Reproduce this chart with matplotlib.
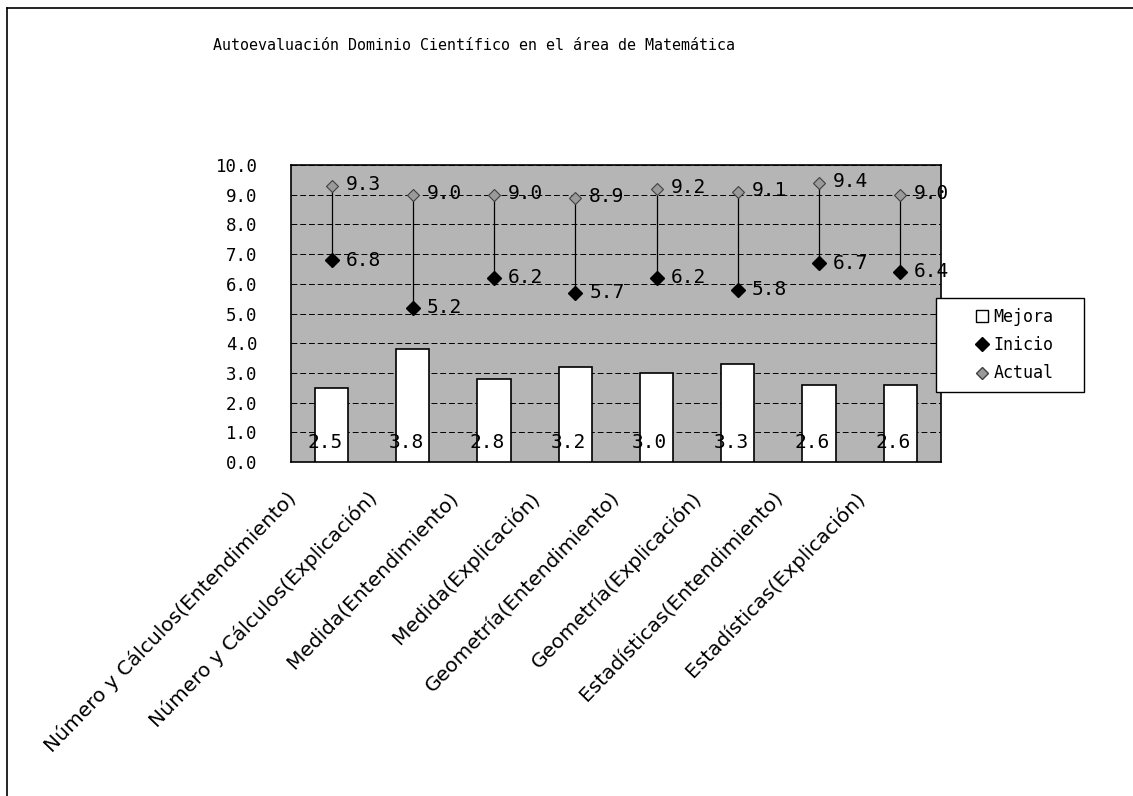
import matplotlib
matplotlib.use("Agg")
import matplotlib.pyplot as plt
import matplotlib.transforms as mtransforms
from matplotlib.lines import Line2D
from matplotlib.patches import Rectangle
import numpy as np

categories = [
    "Número y Cálculos(Entendimiento)",
    "Número y Cálculos(Explicación)",
    "Medida(Entendimiento)",
    "Medida(Explicación)",
    "Geometría(Entendimiento)",
    "Geometría(Explicación)",
    "Estadísticas(Entendimiento)",
    "Estadísticas(Explicación)",
]
mejora = [2.5, 3.8, 2.8, 3.2, 3.0, 3.3, 2.6, 2.6]
inicio = [6.8, 5.2, 6.2, 5.7, 6.2, 5.8, 6.7, 6.4]
actual = [9.3, 9.0, 9.0, 8.9, 9.2, 9.1, 9.4, 9.0]
yticks = [0, 1, 2, 3, 4, 5, 6, 7, 8, 9, 10]
title = "Autoevaluación Dominio Científico en el área de Matemática"

mono = "DejaVu Sans Mono"

fig = plt.figure(figsize=(11.33, 7.96), dpi=100)
ax = fig.add_axes([0.2568, 0.4196, 0.5737, 0.3731])
ax.set_facecolor("#b5b5b5")

x = np.arange(len(categories))
ax.bar(x, mejora, width=0.41, color="white", edgecolor="black", linewidth=1.2, zorder=3)
ax.vlines(x, inicio, actual, color="black", linewidth=0.9, zorder=4)
ax.plot(x, inicio, linestyle="none", marker="D", markersize=7, color="black", zorder=5)
ax.plot(x, actual, linestyle="none", marker="D", markersize=6, markerfacecolor="#9a9a9a",
        markeredgecolor="#404040", markeredgewidth=0.8, zorder=5)

for xi, v in zip(x, mejora):
    ax.annotate(f"{v:.1f}", (xi, 0.65), xytext=(-5, 0), textcoords="offset points",
                ha="center", va="center", fontsize=14, family=mono, zorder=6)
for xi, v in zip(x, inicio):
    ax.annotate(f"{v:.1f}", (xi, v), xytext=(10, 0), textcoords="offset points",
                ha="left", va="center", fontsize=14, family=mono, zorder=6)
for xi, v in zip(x, actual):
    ax.annotate(f"{v:.1f}", (xi, v), xytext=(10, 1), textcoords="offset points",
                ha="left", va="center", fontsize=14, family=mono, zorder=6)

ax.set_xlim(-0.5, len(categories) - 0.5)
ax.set_ylim(0, 10)
ax.set_yticks(yticks)
ax.set_yticklabels([f"{t:.1f}" for t in yticks], family=mono, fontsize=12.5)
ax.tick_params(axis="y", length=0, pad=24)
ax.grid(axis="y", color="black", linestyle=(0, (6, 3)), linewidth=0.7, zorder=1)
ax.set_axisbelow(True)
for s in ax.spines.values():
    s.set_color("black")
    s.set_linewidth(1.2)

ax.set_xticks(x)
ax.set_xticklabels(categories, rotation=46, ha="right", va="top", rotation_mode="anchor",
                   fontsize=14.5, family="DejaVu Sans")
ax.tick_params(axis="x", length=0, pad=8)
offset = mtransforms.ScaledTranslation(-0.46, -0.15, fig.dpi_scale_trans)
for lbl in ax.get_xticklabels():
    lbl.set_transform(lbl.get_transform() + offset)

fig.text(0.4184, 0.943, title, ha="center", va="center", fontsize=10.8, family=mono)

# legend box
lx0, ly0, lx1, ly1 = 936 / 1133, 1 - 392 / 796, 1084 / 1133, 1 - 298 / 796
fig.add_artist(Rectangle((lx0, ly0), lx1 - lx0, ly1 - ly0, transform=fig.transFigure,
                         facecolor="white", edgecolor="black", linewidth=1.0, zorder=10))
handles = [
    Line2D([], [], linestyle="none", marker="s", markersize=9, markerfacecolor="white",
           markeredgecolor="black"),
    Line2D([], [], linestyle="none", marker="D", markersize=7, color="black"),
    Line2D([], [], linestyle="none", marker="D", markersize=6, markerfacecolor="#9a9a9a",
           markeredgecolor="#404040"),
]
leg = fig.legend(handles, ["Mejora", "Inicio", "Actual"], loc="center",
                 bbox_to_anchor=((lx0 + lx1) / 2 + 0.004, (ly0 + ly1) / 2), frameon=False,
                 prop={"family": mono, "size": 12},
                 handlelength=0.8, handletextpad=0.3, borderpad=0.3, labelspacing=0.62,
                 borderaxespad=0)
leg.set_zorder(11)

fig.add_artist(Line2D([0.006, 1.0], [0.990, 0.990], color="black", linewidth=1.2,
                      transform=fig.transFigure))
fig.add_artist(Line2D([0.006, 0.006], [0.0, 0.990], color="black", linewidth=1.2,
                      transform=fig.transFigure))

fig.savefig("out.png", dpi=100)
